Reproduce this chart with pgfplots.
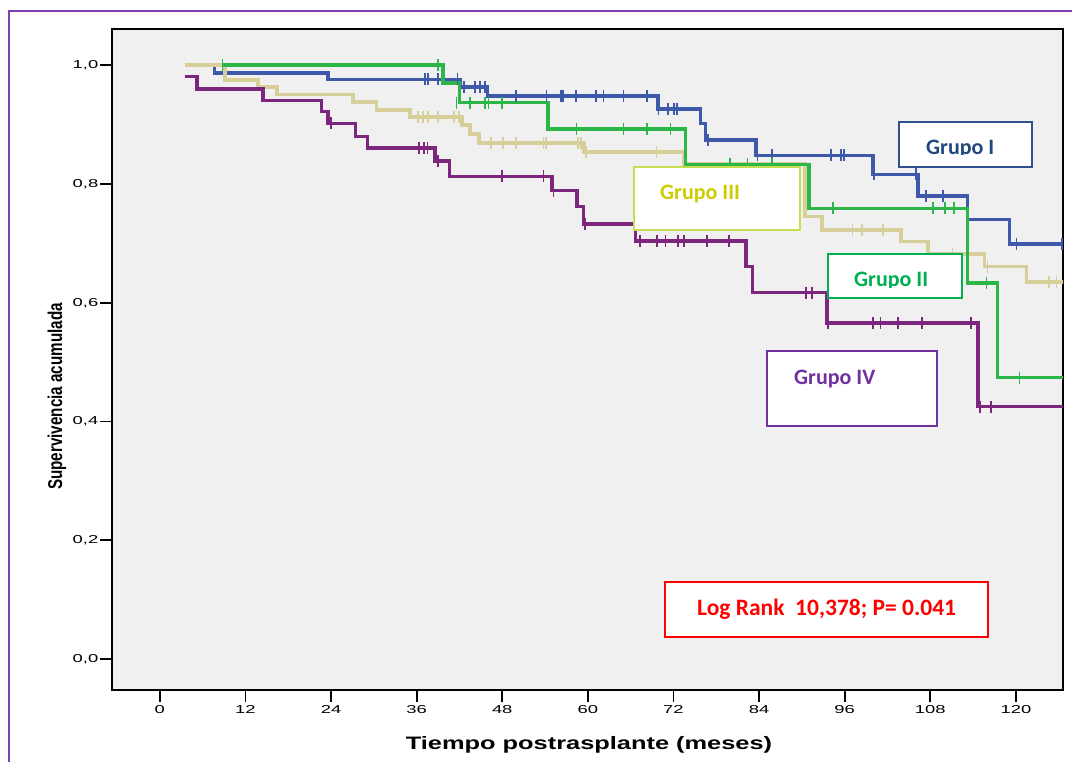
\documentclass[border=0pt]{standalone}
\usepackage{pgfplots}
\pgfplotsset{compat=1.18}
\usepackage{fontspec}
\setmainfont{Liberation Sans}
\newfontfamily\calibri{Carlito}
\usepackage{graphicx}
\definecolor{gI}{RGB}{62,88,170}
\definecolor{gII}{RGB}{45,182,72}
\definecolor{gIII}{RGB}{214,207,153}
\definecolor{gIV}{RGB}{125,38,125}
\definecolor{axbg}{RGB}{240,240,240}
\definecolor{outer}{RGB}{128,64,176}
\definecolor{bIb}{RGB}{47,82,143}
\definecolor{bIt}{RGB}{31,73,125}
\definecolor{bIIIb}{RGB}{200,222,80}
\definecolor{bIIIt}{RGB}{204,204,0}
\definecolor{bII}{RGB}{0,176,80}
\definecolor{bIV}{RGB}{112,48,160}
\newcommand\tl[1]{\scalebox{1.6}[1]{\fontsize{11.5}{12}\selectfont #1}}
\begin{document}
\begin{tikzpicture}[x=1pt,y=1pt]
\useasboundingbox (0,0) rectangle (1072,762);
\fill[white] (0,0) rectangle (1072,762);
\draw[outer, line width=2pt] (9,-5) -- (9,751) -- (1080,751);
\begin{axis}[at={(112pt,72pt)},anchor=south west,scale only axis,
  width=951pt,height=661pt,
  xmin=-6.7,xmax=126.6,ymin=-0.052,ymax=1.061,
  axis background/.style={fill=axbg},
  axis line style={black,line width=1.6pt},
  xtick={0,12,24,36,48,60,72,84,96,108,120},
  xticklabels={\tl{0},\tl{12},\tl{24},\tl{36},\tl{48},\tl{60},\tl{72},\tl{84},\tl{96},\tl{108},\tl{120}},
  ytick={0,0.2,0.4,0.6,0.8,1.0},
  yticklabels={{\tl{0,0}},{\tl{0,2}},{\tl{0,4}},{\tl{0,6}},{\tl{0,8}},{\tl{1,0}}},
  xtick pos=bottom, ytick pos=left,
  tick align=outside, major tick length=12pt,
  tick style={black,line width=1.8pt},
  yticklabel style={inner sep=1.5pt},
  xticklabel style={inner sep=3pt},
]
% Grupo I
\addplot[const plot, gI, line width=3.5pt] coordinates {(3.5,1.0) (7.7,0.987) (23.6,0.976) (42.1,0.963) (45.9,0.948) (69.8,0.926) (75.8,0.902) (76.5,0.874) (83.6,0.848) (100,0.816) (106.3,0.780) (113.2,0.740) (119.1,0.699) (126.8,0.699)};
\addplot[only marks, mark=|, mark size=6pt, gI, mark options={line width=1.6pt}] coordinates {(37.2,0.976)(37.6,0.976)(39.0,0.976)(41.7,0.976)(42.6,0.963)(44.2,0.963)(44.9,0.963)(45.6,0.963)(49.9,0.948)(54.2,0.948)(56.2,0.948)(56.5,0.948)(58.3,0.948)(61.1,0.948)(62.2,0.948)(65.0,0.948)(68.3,0.948)(69.9,0.926)(71.2,0.926)(72.1,0.926)(72.5,0.926)(76.8,0.874)(83.8,0.848)(85.8,0.848)(94.1,0.848)(95.5,0.848)(95.9,0.848)(100.1,0.816)(106,0.816)(107.4,0.780)(109.8,0.780)(120.1,0.699)(126.5,0.699)};
% Grupo III
\addplot[const plot, gIII, line width=3.6pt] coordinates {(3.5,1.0)(9.1,0.975)(13.8,0.963)(16.4,0.951)(27.1,0.938)(30.4,0.925)(35.1,0.913)(42.4,0.899)(43.5,0.884)(44.7,0.869)(59.5,0.854)(73.5,0.834)(90.4,0.745)(92.8,0.723)(103.9,0.703)(107.7,0.682)(115.6,0.661)(121.5,0.635)(126.8,0.635)};
\addplot[only marks, mark=|, mark size=6pt, gIII, mark options={line width=1.6pt}] coordinates {(36.2,0.913)(36.9,0.913)(37.6,0.913)(39.0,0.913)(41.2,0.913)(41.9,0.913)(46.4,0.869)(48.1,0.869)(49.9,0.869)(53.8,0.869)(54.1,0.869)(58.6,0.869)(59.0,0.869)(59.7,0.854)(69.6,0.854)(97.1,0.723)(98.4,0.723)(101.4,0.723)(111.1,0.682)(116.0,0.661)(124.6,0.635)(125.7,0.635)};
% Grupo II
\addplot[const plot, gII, line width=3.5pt] coordinates {(8.8,1.0) (39.7,0.970) (42.0,0.937) (54.4,0.893) (73.7,0.833) (91.0,0.759) (113.2,0.633) (117.4,0.474) (126.8,0.474)};
\addplot[only marks, mark=|, mark size=6pt, gII, mark options={line width=1.6pt}] coordinates {(8.8,1)(39.0,1)(41.6,0.937)(43.5,0.937)(45.6,0.937)(46.1,0.937)(48.0,0.937)(58.4,0.893)(65.0,0.893)(68.3,0.893)(71.6,0.893)(79.9,0.833)(82.4,0.833)(85.8,0.833)(94.4,0.759)(108.4,0.759)(110.1,0.759)(111.3,0.759)(115.9,0.633)(120.5,0.474)};
% Grupo IV
\addplot[const plot, gIV, line width=3.5pt] coordinates {(3.5,0.981)(5.2,0.960)(14.5,0.941)(22.7,0.922)(23.6,0.902)(27.4,0.880)(29.1,0.861)(38.6,0.839)(40.6,0.813)(55.0,0.789)(58.5,0.762)(59.4,0.733)(66.7,0.704)(82.2,0.661)(83.1,0.617)(93.5,0.566)(114.7,0.425)(126.8,0.425)};
\addplot[only marks, mark=|, mark size=6pt, gIV, mark options={line width=1.6pt}] coordinates {(24.0,0.902)(36.3,0.861)(37.0,0.861)(37.5,0.861)(39.0,0.839)(48.0,0.813)(53.8,0.813)(55.2,0.789)(59.6,0.733)(67.3,0.704)(69.7,0.704)(70.9,0.704)(72.6,0.704)(73.5,0.704)(76.7,0.704)(79.8,0.704)(90.6,0.617)(91.4,0.617)(93.7,0.566)(100,0.566)(101,0.566)(103.5,0.566)(106.8,0.566)(113.7,0.566)(115,0.425)(116.5,0.425)};
\end{axis}
% annotation boxes
\draw[fill=white, draw=bIb, line width=2pt] (899,639.7) rectangle (1031.7,595.3);
\begin{scope}\clip (899,607) rectangle (1031.7,639.7);
\node[anchor=base west, inner sep=0, text=bIt, font=\calibri\bfseries\fontsize{22}{22}\selectfont] at (926,607.5) {Grupo I};
\end{scope}
\draw[fill=white, draw=bIIIb, line width=2pt] (634.3,595.3) rectangle (800,532);
\node[anchor=base west, inner sep=0, text=bIIIt, font=\calibri\bfseries\fontsize{22}{22}\selectfont] at (660,562.7) {Grupo III};
\draw[fill=white, draw=bII, line width=2pt] (828,507.7) rectangle (962,463.7);
\begin{scope}\clip (828,474.7) rectangle (962,507.7);
\node[anchor=base west, inner sep=0, text=bII, font=\calibri\bfseries\fontsize{22}{22}\selectfont] at (854,475) {Grupo II};
\end{scope}
\draw[fill=white, draw=bIV, line width=2pt] (767.3,411) rectangle (937.4,336.3);
\node[anchor=base west, inner sep=0, text=bIV, font=\calibri\bfseries\fontsize{22}{22}\selectfont] at (794,377) {Grupo IV};
\draw[fill=white, draw=red, line width=2pt] (665,179.7) rectangle (987.7,124.7);
\node[anchor=base west, inner sep=0, text=red, font=\calibri\bfseries\fontsize{23.5}{23.5}\selectfont] at (697,146.3) {Log Rank\ \ 10,378; P= 0.041};
% axis titles
\node[anchor=base, inner sep=0] at (589,12) {\scalebox{1.41}[1]{\bfseries\fontsize{18}{18}\selectfont Tiempo postrasplante (meses)}};
\node[rotate=90, anchor=base, inner sep=0] at (62,365.5) {\scalebox{0.76}[1]{\bfseries\fontsize{20}{20}\selectfont Supervivencia acumulada}};
\end{tikzpicture}
\end{document}
